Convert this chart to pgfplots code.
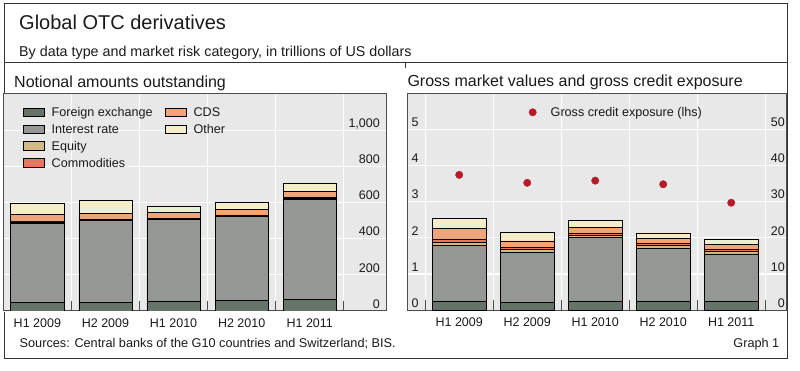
\documentclass[border=0pt]{standalone}
\usepackage{fontspec}
\setmainfont{Liberation Sans}
\usepackage{pgfplots}
\pgfplotsset{compat=1.18}
\definecolor{fxc}{HTML}{647468}
\definecolor{irc}{HTML}{959794}
\definecolor{eqc}{HTML}{D1BB82}
\definecolor{coc}{HTML}{E8765C}
\definecolor{cdc}{HTML}{EEA57A}
\definecolor{otc}{HTML}{F5ECC8}
\definecolor{bgc}{HTML}{E8E8E8}
\definecolor{dotc}{HTML}{B51C2A}
\definecolor{txt}{HTML}{1A1A1A}
\definecolor{frm}{HTML}{4D4D4D}
\newcommand\fs[1]{\fontsize{#1}{#1}\selectfont}
\pgfplotsset{
  barbase/.style={
    scale only axis, anchor=south west,
    axis background/.style={fill=bgc},
    axis line style={draw=frm, line width=1pt},
    ymajorgrids=true, xmajorgrids=false, xminorgrids=true,
    major grid style={draw=white, line width=1.2pt},
    minor grid style={draw=white, line width=1.2pt},
    major tick length=0pt, minor tick length=0pt,
    tick align=inside, xtick pos=left,
    xtick={0,1,2,3,4},
    xticklabels={H1 2009,H2 2009,H1 2010,H2 2010,H1 2011},
    xticklabel style={font=\fs{12.5}, text=txt, anchor=north, inner sep=0pt, text height=9pt, text depth=0pt, yshift=-7pt},
    yticklabel style={font=\fs{12.5}, text=txt, inner sep=0pt, text height=9pt, text depth=0pt},
    /pgf/number format/assume math mode=true,
    ybar stacked,
    every axis plot/.append style={draw=black, line width=0.7pt},
  },
  tickover/.style={
    scale only axis, anchor=south west, hide axis, clip=false,
  },
}
\begin{document}
\begin{tikzpicture}[x=1pt,y=1pt]
\useasboundingbox (0,0) rectangle (800,371);
% frame
\draw[line width=1pt, draw=black!80] (4,367) rectangle (787,12);
\draw[line width=1pt, draw=black!80] (4,308) -- (787,308);
\draw[line width=0.8pt, draw=black!80] (405,308) -- (405,303);
% titles
\node[anchor=base west, inner sep=0pt, text=txt, font=\fs{20}] at (19,341) {Global OTC derivatives};
\node[anchor=base west, inner sep=0pt, text=txt, font=\fs{14.3}] at (19,314.3) {By data type and market risk category, in trillions of US dollars};
\node[anchor=base west, inner sep=0pt, text=txt, font=\fs{16}] at (14,283.7) {Notional amounts outstanding};
\node[anchor=base west, inner sep=0pt, text=txt, font=\fs{16}] at (407.3,284.3) {Gross market values and gross credit exposure};
\node[anchor=base west, inner sep=0pt, text=txt, font=\fs{12.7}] at (19.5,23.7) {Sources: Central banks of the G10 countries and Switzerland; BIS.};
\node[anchor=base east, inner sep=0pt, text=txt, font=\fs{12.7}] at (779.5,23.7) {Graph 1};

% ---------------- left panel ----------------
\begin{axis}[barbase,
  at={(4pt,60pt)}, width=382pt, height=217pt,
  xmin=-0.49, xmax=5.12, ymin=0, ymax=1200,
  bar width=0.78,
  minor xtick={0.5,1.5,2.5,3.5,4.5},
  ytick={0,200,400,600,800,1000},
  yticklabels={0,200,400,600,800,{1,000}},
  yticklabel pos=right,
  yticklabel style={anchor=south east, xshift=-6pt, yshift=2.5pt},
  legend image code/.code={\draw[#1] (0pt,-4.2pt) rectangle (21pt,4.2pt);},
  legend columns=2, legend cell align=left,
  legend style={at={(axis description cs:0,1)}, anchor=north west,
    xshift=19pt, yshift=-13.8pt, draw=none, fill=none, inner sep=0pt, outer sep=0pt,
    row sep=7.7pt, font=\fs{12.6}, text=txt,
    nodes={inner sep=0pt, text height=9pt, text depth=0pt},
    /tikz/every odd column/.append style={column sep=7pt},
    /tikz/every even column/.append style={column sep=12.3pt}},
]
\addplot[fill=fxc, forget plot] coordinates {(0,48.7) (1,49.2) (2,53.2) (3,57.8) (4,64.7)};
\addplot[fill=irc, forget plot] coordinates {(0,437.2) (1,449.9) (2,451.8) (3,465.3) (4,553.2)};
\addplot[fill=eqc, forget plot] coordinates {(0,6.6) (1,6.6) (2,6.3) (3,5.6) (4,6.8)};
\addplot[fill=coc, forget plot] coordinates {(0,3.7) (1,2.9) (2,2.9) (3,2.9) (4,3.2)};
\addplot[fill=cdc, forget plot] coordinates {(0,36.0) (1,32.7) (2,30.3) (3,29.9) (4,32.4)};
\addplot[fill=otc, forget plot] coordinates {(0,64) (1,69) (2,36) (3,39) (4,46)};
\addlegendimage{fill=fxc, draw=black, line width=0.7pt}\addlegendentry{Foreign exchange}
\addlegendimage{fill=cdc, draw=black, line width=0.7pt}\addlegendentry{CDS}
\addlegendimage{fill=irc, draw=black, line width=0.7pt}\addlegendentry{Interest rate}
\addlegendimage{fill=otc, draw=black, line width=0.7pt}\addlegendentry{Other}
\addlegendimage{fill=eqc, draw=black, line width=0.7pt}\addlegendentry{Equity}
\addlegendimage{empty legend}\addlegendentry{}
\addlegendimage{fill=coc, draw=black, line width=0.7pt}\addlegendentry{Commodities}
\end{axis}
% short separator marks at the bottom, left panel (units: 1 = 1pt)
\begin{axis}[tickover,
  at={(4pt,60pt)}, width=382pt, height=217pt,
  xmin=-0.49, xmax=5.12, ymin=0, ymax=217,
]
\addplot[ycomb, draw=frm, line width=1.4pt, mark=none] coordinates {(0.5,10) (1.5,10) (2.5,10) (3.5,10) (4.5,10)};
\end{axis}

% ---------------- right panel: bars (rhs) ----------------
\begin{axis}[barbase,
  at={(407pt,60.7pt)}, width=379pt, height=217.3pt,
  xmin=-0.768, xmax=4.806, ymin=0, ymax=60,
  bar width=0.79,
  minor xtick={-0.5,0.5,1.5,2.5,3.5,4.5},
  ytick={0,10,20,30,40,50},
  yticklabel pos=right,
  yticklabel style={anchor=south east, xshift=-1pt, yshift=2.5pt},
]
\addplot[fill=fxc] coordinates {(0,2.47) (1,2.07) (2,2.54) (3,2.48) (4,2.34)};
\addplot[fill=irc] coordinates {(0,15.48) (1,14.02) (2,17.53) (3,14.75) (4,13.24)};
\addplot[fill=eqc] coordinates {(0,0.88) (1,0.71) (2,0.71) (3,0.65) (4,0.71)};
\addplot[fill=coc] coordinates {(0,0.69) (1,0.55) (2,0.46) (3,0.53) (4,0.47)};
\addplot[fill=cdc] coordinates {(0,2.99) (1,1.80) (2,1.67) (3,1.35) (4,1.35)};
\addplot[fill=otc] coordinates {(0,2.93) (1,2.39) (2,1.79) (3,1.55) (4,1.41)};
\end{axis}
% short separator marks at the bottom, right panel
\begin{axis}[tickover,
  at={(407pt,60.7pt)}, width=379pt, height=217.3pt,
  xmin=-0.768, xmax=4.806, ymin=0, ymax=217.3,
]
\addplot[ycomb, draw=frm, line width=1.4pt, mark=none] coordinates {(-0.5,10) (0.5,10) (1.5,10) (2.5,10) (3.5,10) (4.5,10)};
\end{axis}

% ---------------- right panel: dots (lhs) ----------------
\begin{axis}[
  scale only axis, anchor=south west,
  at={(407pt,60.7pt)}, width=379pt, height=217.3pt,
  xmin=-0.768, xmax=4.806, ymin=0, ymax=6,
  hide x axis,
  axis line style={draw=none},
  major tick length=0pt,
  ytick={0,1,2,3,4,5},
  yticklabel pos=left,
  yticklabel style={font=\fs{12.5}, text=txt, inner sep=0pt, text height=9pt, text depth=0pt, anchor=south west, xshift=4.5pt, yshift=2.5pt},
  /pgf/number format/assume math mode=true,
  legend image code/.code={\draw[#1] plot coordinates {(4pt,0pt)};},
  legend style={at={(axis description cs:0,1)}, anchor=north west,
    xshift=122pt, yshift=-14.8pt, draw=none, fill=none, inner sep=0pt, outer sep=0pt,
    font=\fs{12.6}, text=txt,
    nodes={inner sep=0pt, text height=9pt, text depth=0pt},
    /tikz/every odd column/.append style={column sep=14.3pt}},
  legend cell align=left,
]
\addplot[only marks, mark=*, mark size=3.7pt, color=dotc] coordinates {(0,3.74) (1,3.52) (2,3.58) (3,3.48) (4,2.97)};
\addlegendentry{Gross credit exposure (lhs)}
\end{axis}
\end{tikzpicture}
\end{document}
